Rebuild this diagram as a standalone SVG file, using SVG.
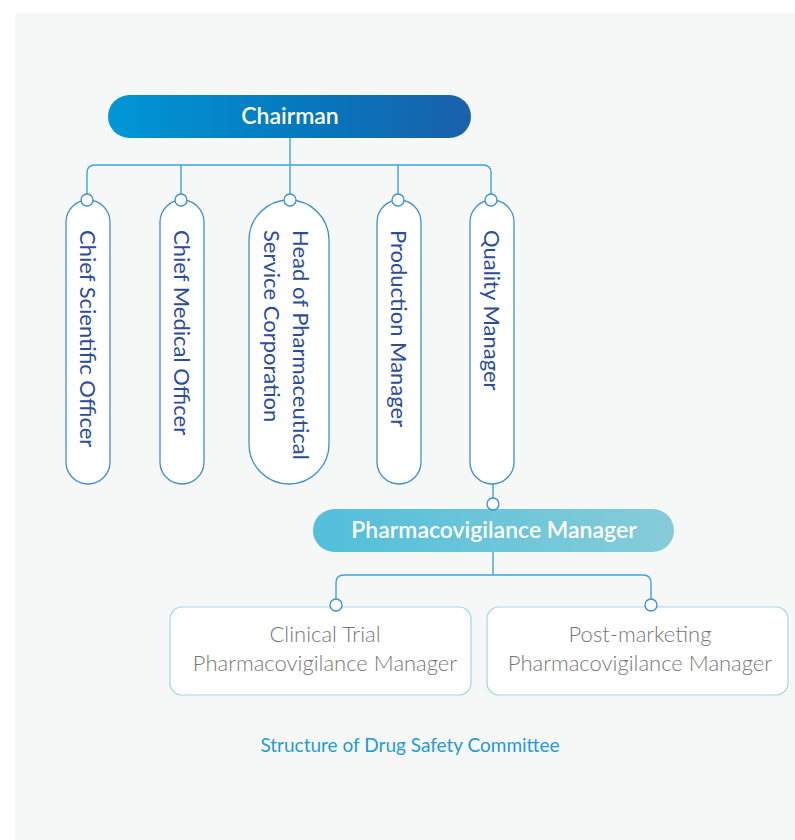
<svg xmlns="http://www.w3.org/2000/svg" width="795" height="840" viewBox="0 0 795 840">
<defs>
<linearGradient id="gChair" x1="0" y1="0" x2="1" y2="0">
<stop offset="0" stop-color="#0097d7"/>
<stop offset="0.6" stop-color="#0775bb"/>
<stop offset="1" stop-color="#1b61ab"/>
</linearGradient>
<linearGradient id="gPV" x1="0" y1="0" x2="1" y2="0">
<stop offset="0" stop-color="#52bfdb"/>
<stop offset="1" stop-color="#86ccd8"/>
</linearGradient>
<style>
.pill{fill:#ffffff;stroke:#3f8fd2;stroke-width:1.3}
.vt{font-family:Lato,"Liberation Sans",sans-serif;font-size:22px;fill:#2c4d9c}
.box{fill:#ffffff;stroke:#a4d7e2;stroke-width:1.2}
.bt{font-family:Lato,"Liberation Sans",sans-serif;font-size:22px;font-weight:300;fill:#777777;text-anchor:middle}
.ht{font-family:Lato,"Liberation Sans",sans-serif;font-size:23px;fill:#ffffff;text-anchor:middle;font-weight:600}
.ln{fill:none;stroke:#3aa4dd;stroke-width:1.4}
.dot{fill:#ffffff;stroke:#3a8fd3;stroke-width:1.3}
</style>
</defs>
<rect x="0" y="0" width="795" height="840" fill="#ffffff"/>
<rect x="15" y="13" width="780" height="827" fill="#f6f8f8"/>

<g id="connectors">
<path class="ln" d="M290 138 V165"/>
<path class="ln" d="M87 200 V173 Q87 165 95 165 H483 Q491 165 491 173 V200"/>
<path class="ln" d="M181 165 V200"/>
<path class="ln" d="M290 165 V200"/>
<path class="ln" d="M398 165 V200"/>
<path class="ln" d="M493 484 V508"/>
<path class="ln" d="M493 552 V575"/>
<path class="ln" d="M336 605 V583 Q336 575 344 575 H643 Q651 575 651 583 V605"/>
</g>

<g id="chairman">
<rect x="108" y="95" width="363" height="43" rx="21.5" fill="url(#gChair)"/>
<text class="ht" x="290" y="124">Chairman</text>
</g>

<g id="cso">
<rect class="pill" x="66" y="200" width="44" height="284" rx="22"/>
<text class="vt" transform="translate(80,230) rotate(90)">Chief Scientific Officer</text>
<circle class="dot" cx="87" cy="200" r="6"/>
</g>
<g id="cmo">
<rect class="pill" x="160" y="200" width="44" height="284" rx="22"/>
<text class="vt" transform="translate(174,230) rotate(90)">Chief Medical Officer</text>
<circle class="dot" cx="181" cy="200" r="6"/>
</g>
<g id="hpsc">
<rect class="pill" x="249" y="200" width="80" height="284" rx="40"/>
<text class="vt" transform="translate(293,230) rotate(90)">Head of Pharmaceutical</text>
<text class="vt" transform="translate(264,230) rotate(90)">Service Corporation</text>
<circle class="dot" cx="290" cy="200" r="6"/>
</g>
<g id="pm">
<rect class="pill" x="377" y="200" width="44" height="284" rx="22"/>
<text class="vt" transform="translate(391,230) rotate(90)">Production Manager</text>
<circle class="dot" cx="398" cy="200" r="6"/>
</g>
<g id="qm">
<rect class="pill" x="470" y="200" width="44" height="284" rx="22"/>
<text class="vt" transform="translate(484,230) rotate(90)">Quality Manager</text>
<circle class="dot" cx="491" cy="200" r="6"/>
</g>

<g id="pvm">
<rect x="313" y="509" width="361" height="43" rx="21.5" fill="url(#gPV)"/>
<text class="ht" x="494" y="538">Pharmacovigilance Manager</text>
<circle class="dot" cx="493" cy="504" r="6"/>
</g>

<g id="ctpvm">
<rect class="box" x="170" y="607" width="301" height="88" rx="12"/>
<text class="bt" x="325" y="642">Clinical Trial</text>
<text class="bt" x="325" y="671">Pharmacovigilance Manager</text>
<circle class="dot" cx="336" cy="605" r="6"/>
</g>
<g id="pmpvm">
<rect class="box" x="487" y="607" width="301" height="88" rx="12"/>
<text class="bt" x="640" y="642">Post-marketing</text>
<text class="bt" x="640" y="671">Pharmacovigilance Manager</text>
<circle class="dot" cx="651" cy="605" r="6"/>
</g>

<text x="410" y="752" font-family="Lato,'Liberation Sans',sans-serif" font-size="19" fill="#1f9ad6" text-anchor="middle">Structure of Drug Safety Committee</text>
</svg>
